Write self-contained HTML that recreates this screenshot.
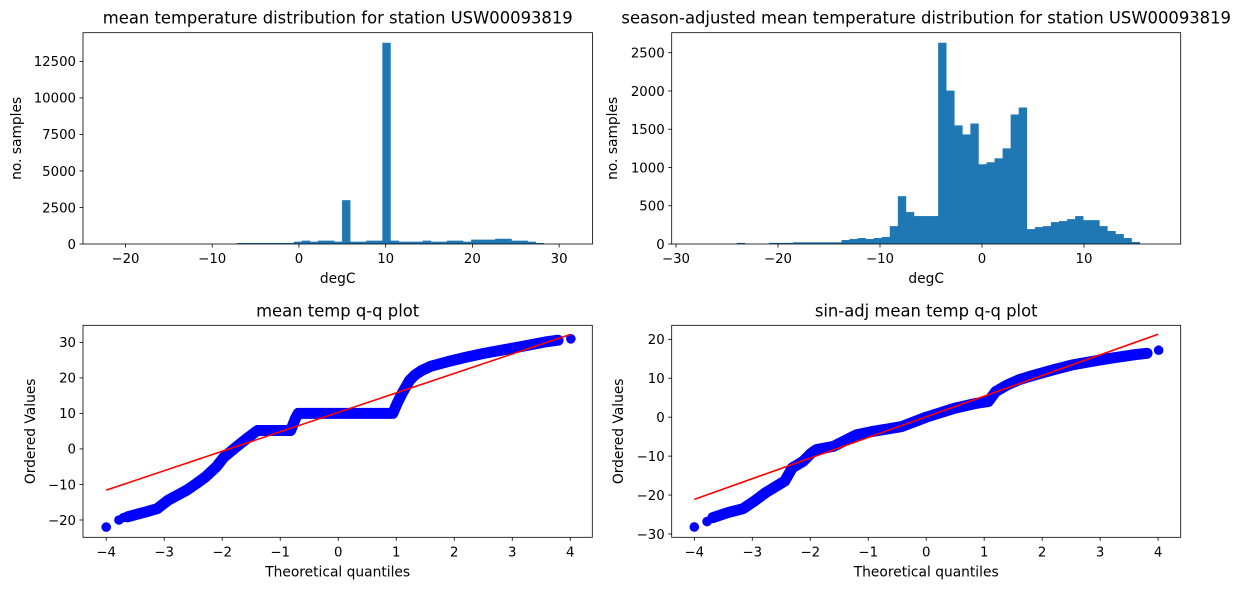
<!DOCTYPE html>
<html><head><meta charset="utf-8">
<style>
html,body{margin:0;padding:0;background:#fff;}
svg{display:block;font-family:"DejaVu Sans","Liberation Sans",sans-serif;}
</style></head>
<body>
<svg id="fig" width="1244" height="590" xmlns="http://www.w3.org/2000/svg"></svg>
<script>
// ---- histogram 1 data ----
const h1Start = -22, h1Width = 0.93;
const h1Counts = [0,0,0,0,0,0,0,0,0,0,0,0,0,0,0,0,70,70,70,70,70,70,70,160,230,160,230,230,160,3000,160,160,230,230,13775,230,160,160,160,230,160,160,230,230,160,300,300,300,360,360,230,230,160,70,0,0,0];
const h1XTicks = [-20,-10,0,10,20,30];
const h1YTicks = [0,2500,5000,7500,10000,12500];
// ---- histogram 2 data ----
const h2Start = -28, h2Width = 0.79;
const h2Counts = [0,0,0,0,0,15,0,0,0,15,15,15,22,22,22,22,22,22,52,65,78,65,78,91,234,625,417,365,365,365,2630,2005,1550,1432,1575,1042,1068,1120,1250,1693,1784,195,221,234,286,300,325,365,312,312,234,170,130,78,26,0,0,0];
const h2XTicks = [-30,-20,-10,0,10];
const h2YTicks = [0,500,1000,1500,2000,2500];
// ---- q-q 1 data ----
const q1Theo = [-3.63,-3.45,-3.31,-3.12,-2.93,-2.61,-2.45,-2.29,-2.1,-1.97,-1.8,-1.65,-1.45,-1.39,-1.3,-0.82,-0.74,-0.69,0.0,0.94,1.02,1.1,1.23,1.32,1.43,1.6,1.87,2.2,2.51,2.85,3.15,3.6,3.79];
const q1Vals = [-19.1,-18.3,-17.7,-16.8,-14.4,-11.6,-9.8,-7.9,-5,-2.3,0,2.0,4.5,5.2,5.2,5.2,8.5,10,10,10,13,15.6,19.3,20.8,22,23.3,24.5,25.8,26.9,27.9,28.8,30.2,30.6];
const q1TailTheo = [-4.0,-3.78,-3.7,3.7,3.8,4.01];
const q1TailVals = [-22,-20,-19.3,30.4,30.6,31];
const q1Fit = [[-4,-11.6],[4,32.2]];
const q1XTicks = [-4,-3,-2,-1,0,1,2,3,4];
const q1YTicks = [-20,-10,0,10,20,30];
// ---- q-q 2 data ----
const q2Theo = [-3.68,-3.42,-3.16,-2.96,-2.77,-2.44,-2.31,-2.12,-1.98,-1.89,-1.6,-1.4,-1.2,-0.94,-0.42,0,0.49,0.88,1.07,1.2,1.4,1.6,1.86,2.2,2.51,2.85,3.16,3.62,3.81];
const q2Vals = [-25.8,-24.5,-23.5,-21.5,-19.4,-16.4,-13,-11.3,-9.2,-8.3,-7.5,-6,-4.5,-3.7,-2.4,0,2.3,3.6,4,6.6,8.3,9.6,10.8,12.2,13.4,14.3,15.1,16.1,16.4];
const q2TailTheo = [-4.0,-3.78,3.7,3.81,4.01];
const q2TailVals = [-28.2,-26.8,16.3,16.4,17.2];
const q2Fit = [[-4,-21.1],[4,21.3]];
const q2XTicks = [-4,-3,-2,-1,0,1,2,3,4];
const q2YTicks = [-30,-20,-10,0,10,20];

const NS="http://www.w3.org/2000/svg";
const fig=document.getElementById('fig');
function mk(tag,attrs,parent){const e=document.createElementNS(NS,tag);for(const k in attrs)e.setAttribute(k,attrs[k]);(parent||fig).appendChild(e);return e;}
function fmt(v){return v<0?'\u2212'+Math.abs(v):String(v);}

function axes(name,box,xlim,ylim,xt,yt,title,xlabel,ylabel){
  const g=mk('g',{});
  
  
  const sx=v=>box.x+(v-xlim[0])/(xlim[1]-xlim[0])*box.w;
  const sy=v=>box.y+box.h-(v-ylim[0])/(ylim[1]-ylim[0])*box.h;
  const plot=mk('g',{},g);
  
  
  const frame=()=>{
    const r=mk('rect',{x:box.x,y:box.y,width:box.w,height:box.h,fill:'none',stroke:'#000','stroke-width':0.8},g);
    
    
    xt.forEach(v=>{const X=sx(v);
      mk('line',{x1:X,x2:X,y1:box.y+box.h,y2:box.y+box.h+3.5,stroke:'#000','stroke-width':0.8},g);
      const t=mk('text',{x:X,y:box.y+box.h+19,'text-anchor':'middle','font-size':13.3,fill:'#000'},g);
      
      
      t.textContent=fmt(v);});
    yt.forEach(v=>{const Y=sy(v);
      mk('line',{x1:box.x,x2:box.x-3.5,y1:Y,y2:Y,stroke:'#000','stroke-width':0.8},g);
      const t=mk('text',{x:box.x-7,y:Y+4.8,'text-anchor':'end','font-size':13.3,fill:'#000'},g);
      
      
      t.textContent=fmt(v);});
    const tt=mk('text',{x:box.x+box.w/2,y:box.y-9,'text-anchor':'middle','font-size':16.4,fill:'#000'},g);
    
    
    tt.textContent=title;
    const xl=mk('text',{x:box.x+box.w/2,y:box.y+box.h+39,'text-anchor':'middle','font-size':13.8,fill:'#000'},g);
    
    
    xl.textContent=xlabel;
    const lx=ylabel.x, ly=box.y+box.h/2;
    const yl=mk('text',{x:lx,y:ly,'text-anchor':'middle','font-size':13.8,fill:'#000',transform:`rotate(-90 ${lx} ${ly})`},g);
    
    
    yl.textContent=ylabel.t;
  };
  return {g:plot,sx,sy,frame};
}
function hist(A,start,w,counts){
  counts.forEach((c,i)=>{if(c<=0)return;
    const x0=A.sx(start+i*w),x1=A.sx(start+(i+1)*w),y=A.sy(c),y0=A.sy(0);
    const r=mk('rect',{x:x0,y:y,width:x1-x0+0.3,height:y0-y,fill:'#1f77b4'},A.g);
    
    
  });
}
function qq(A,theo,vals,tt,tv,fit){
  const pts=theo.map((t,i)=>A.sx(t)+','+A.sy(vals[i])).join(' ');
  const pl=mk('polyline',{points:pts,fill:'none',stroke:'#0000ff','stroke-width':11,'stroke-linejoin':'round','stroke-linecap':'round'},A.g);
  
  
  tt.forEach((t,i)=>{
    const c=mk('circle',{cx:A.sx(t),cy:A.sy(tv[i]),r:4.8,fill:'#0000ff'},A.g);
    
    
  });
  const l=mk('line',{x1:A.sx(fit[0][0]),y1:A.sy(fit[0][1]),x2:A.sx(fit[1][0]),y2:A.sy(fit[1][1]),stroke:'#ff0000','stroke-width':1.6},A.g);
  
  
}
const h1Max=Math.max(...h1Counts), h2Max=Math.max(...h2Counts);
const A1=axes('histogram-mean-temp',{x:83,y:32.7,w:509.5,h:211.3},[-24.9,33.85],[0,h1Max*1.05],h1XTicks,h1YTicks,'mean temperature distribution for station USW00093819','degC',{x:21,t:'no. samples'});
hist(A1,h1Start,h1Width,h1Counts);A1.frame();
const A2=axes('histogram-season-adjusted',{x:671.7,y:32.7,w:509,h:211.3},[-30.42,19.48],[0,h2Max*1.05],h2XTicks,h2YTicks,'season-adjusted mean temperature distribution for station USW00093819','degC',{x:617,t:'no. samples'});
hist(A2,h2Start,h2Width,h2Counts);A2.frame();
const A3=axes('qq-mean-temp',{x:83,y:325.3,w:509.3,h:212},[-4.4,4.38],[-24.87,34.8],q1XTicks,q1YTicks,'mean temp q-q plot','Theoretical quantiles',{x:35,t:'Ordered Values'});
qq(A3,q1Theo,q1Vals,q1TailTheo,q1TailVals,q1Fit);A3.frame();
const A4=axes('qq-sin-adj',{x:671.7,y:325.3,w:509,h:212},[-4.39,4.39],[-30.85,23.6],q2XTicks,q2YTicks,'sin-adj mean temp q-q plot','Theoretical quantiles',{x:623,t:'Ordered Values'});
qq(A4,q2Theo,q2Vals,q2TailTheo,q2TailVals,q2Fit);A4.frame();
</script>
</body></html>
